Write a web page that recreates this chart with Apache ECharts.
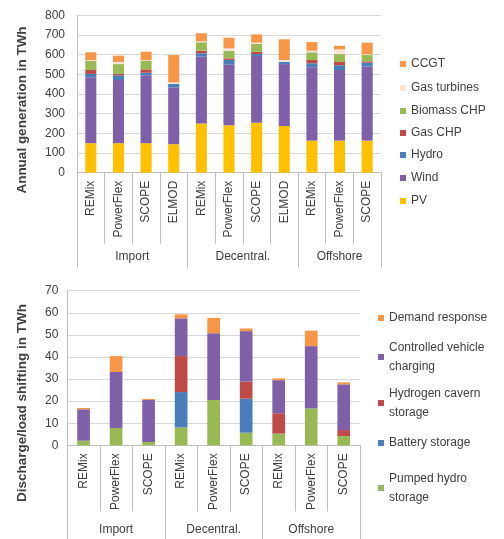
<!DOCTYPE html>
<html>
<head>
<meta charset="utf-8">
<script src="https://cdn.jsdelivr.net/npm/echarts@6/dist/echarts.min.js"></script>
<style>
  html, body { margin: 0; padding: 0; background: #ffffff; }
  #chart { width: 504px; height: 539px; }
</style>
</head>
<body>
<div id="chart"></div>
<script>
// ---- Annual generation (TWh) by scenario and model ----
const genModels = ['REMix', 'PowerFlex', 'SCOPE', 'ELMOD', 'REMix', 'PowerFlex', 'SCOPE', 'ELMOD', 'REMix', 'PowerFlex', 'SCOPE'];
const genGroups = ['Import', 'Decentral.', 'Offshore'];
const genGroupSizes = [4, 4, 3];
const genPV          = [150, 150, 150, 145, 250, 241, 254, 237, 163, 163, 163];
const genWind        = [335, 321, 345, 289, 340, 308, 339, 315, 373, 359, 376];
const genHydro       = [17, 24, 13, 17, 17, 24, 10, 12, 20, 24, 20];
const genGasCHP      = [20, 7, 17, 0, 13, 8, 12, 0, 17, 17, 7];
const genBiomassCHP  = [46, 50, 44, 0, 43, 38, 39, 0, 39, 40, 32];
const genGasTurbines = [4, 11, 3, 8, 5, 13, 7, 9, 8, 24, 4];
const genCCGT        = [40, 32, 43, 139, 41, 54, 42, 105, 44, 18, 59];
const genTicks = { min: 0, max: 800, interval: 100 };

// ---- Discharge / load shifting (TWh) ----
const flexModels = ['REMix', 'PowerFlex', 'SCOPE', 'REMix', 'PowerFlex', 'SCOPE', 'REMix', 'PowerFlex', 'SCOPE'];
const flexGroups = ['Import', 'Decentral.', 'Offshore'];
const flexGroupSizes = [3, 3, 3];
const flexPumpedHydro = [2.1, 7.8, 1.5, 8.1, 20.5, 5.7, 5.3, 16.7, 4.2];
const flexBattery     = [0, 0, 0, 16.0, 0, 15.4, 0, 0, 0];
const flexHydrogen    = [0, 0, 0, 16.3, 0, 7.7, 9.2, 0, 2.7];
const flexVehicles    = [14.2, 25.4, 19.0, 17.1, 30.2, 22.9, 15.0, 28.2, 20.7];
const flexDemandResp  = [0.6, 7.2, 0.5, 1.8, 7.0, 1.2, 0.8, 7.0, 0.9];
const flexTicks = { min: 0, max: 70, interval: 10 };

const FONT = 'Liberation Sans';
const TEXT = '#404040';
const LINE = '#bfbfbf';
const GRIDLINE = '#d9d9d9';

const C = {
  pv: '#FFC000', wind: '#7F60A8', hydro: '#4A7EBB', gasChp: '#BE4B48',
  biomass: '#98B954', gasTurb: '#FCE4D6', ccgt: '#F79646'
};

// group boundaries and centres in category-index units
function groupLayout(sizes) {
  const bounds = [0];
  const centres = [];
  sizes.forEach(s => {
    const start = bounds[bounds.length - 1];
    bounds.push(start + s);
    centres.push(start + s / 2);
  });
  return { bounds, centres };
}
const genLayout = groupLayout(genGroupSizes);
const flexLayout = groupLayout(flexGroupSizes);

const genSeries = [
  ['PV', genPV, C.pv], ['Wind', genWind, C.wind], ['Hydro', genHydro, C.hydro],
  ['Gas CHP', genGasCHP, C.gasChp], ['Biomass CHP', genBiomassCHP, C.biomass],
  ['Gas turbines', genGasTurbines, C.gasTurb], ['CCGT', genCCGT, C.ccgt]
];
const flexSeries = [
  ['Pumped hydro storage', flexPumpedHydro, C.biomass],
  ['Battery storage', flexBattery, C.hydro],
  ['Hydrogen cavern storage', flexHydrogen, C.gasChp],
  ['Controlled vehicle charging', flexVehicles, C.wind],
  ['Demand response', flexDemandResp, C.ccgt]
];

// legend labels that wrap onto a second line
const legendText = {
  'Controlled vehicle charging': 'Controlled vehicle\ncharging',
  'Hydrogen cavern storage': 'Hydrogen cavern\nstorage',
  'Pumped hydro storage': 'Pumped hydro\nstorage'
};

// legend entry positions (centre of first text line)
const genLegendRows = [
  ['CCGT', 64], ['Gas turbines', 88], ['Biomass CHP', 111], ['Gas CHP', 133],
  ['Hydro', 155], ['Wind', 178], ['PV', 201]
];
const flexLegendRows = [
  ['Demand response', 318], ['Controlled vehicle charging', 357],
  ['Hydrogen cavern storage', 403], ['Battery storage', 443], ['Pumped hydro storage', 488]
];

function legendEntry(name, y, left) {
  const multi = !!legendText[name];
  const L = 19;
  return {
    data: [name],
    orient: 'vertical',
    left: left,
    top: multi ? y - L * 1.5 : y - 7,
    padding: 0,
    icon: 'rect',
    itemWidth: 6,
    itemHeight: 6,
    selectedMode: false,
    formatter: n => legendText[n] || n,
    textStyle: multi
      ? { fontFamily: FONT, fontSize: 12, color: TEXT, lineHeight: L, padding: [L, 0, 0, 0] }
      : { fontFamily: FONT, fontSize: 12, color: TEXT, lineHeight: 14 }
  };
}

function modelAxis(gridIndex, models, tickLen) {
  return {
    type: 'category', gridIndex, data: models, position: 'bottom',
    axisLine: { lineStyle: { color: LINE } },
    axisTick: { show: true, interval: 0, length: tickLen, lineStyle: { color: LINE } },
    axisLabel: { interval: 0, rotate: 90, margin: 8, fontFamily: FONT, fontSize: 12, color: TEXT }
  };
}
function groupAxis(gridIndex, count, layout, groups, tickLen, labelMargin) {
  return {
    type: 'value', gridIndex, min: 0, max: count, position: 'bottom',
    axisLine: { show: false },
    splitLine: { show: false },
    axisTick: { show: true, customValues: layout.bounds, length: tickLen, lineStyle: { color: LINE } },
    axisLabel: {
      customValues: layout.centres, margin: labelMargin,
      fontFamily: FONT, fontSize: 12, color: TEXT,
      formatter: v => {
        const i = layout.centres.indexOf(v);
        return i >= 0 ? groups[i] : '';
      }
    }
  };
}
function valueAxis(gridIndex, ticks, margin) {
  return {
    type: 'value', gridIndex, min: ticks.min, max: ticks.max, interval: ticks.interval,
    axisLine: { show: true, lineStyle: { color: LINE } },
    axisTick: { show: false },
    splitLine: { lineStyle: { color: GRIDLINE } },
    axisLabel: { margin, fontFamily: FONT, fontSize: 12, color: TEXT }
  };
}

const series = [];
genSeries.forEach(([name, data, color]) => series.push({
  name, type: 'bar', stack: 'gen', xAxisIndex: 0, yAxisIndex: 0, data,
  barCategoryGap: '60%', itemStyle: { color }, emphasis: { disabled: true }
}));
flexSeries.forEach(([name, data, color]) => series.push({
  name, type: 'bar', stack: 'flex', xAxisIndex: 2, yAxisIndex: 1, data,
  barCategoryGap: '61%', itemStyle: { color }, emphasis: { disabled: true }
}));

const chart = echarts.init(document.getElementById('chart'), null, { renderer: 'canvas' });
chart.setOption({
  animation: false,
  backgroundColor: '#ffffff',
  textStyle: { fontFamily: FONT },
  grid: [
    { left: 77, top: 15.3, width: 304, height: 157.4 },
    { left: 67.3, top: 290.7, width: 292.7, height: 154.6 }
  ],
  xAxis: [
    modelAxis(0, genModels, 71),
    groupAxis(0, genModels.length, genLayout, genGroups, 95, 78),
    modelAxis(1, flexModels, 66),
    groupAxis(1, flexModels.length, flexLayout, flexGroups, 94, 78)
  ],
  yAxis: [
    valueAxis(0, genTicks, 12),
    valueAxis(1, flexTicks, 9)
  ],
  legend: [
    ...genLegendRows.map(([n, y]) => legendEntry(n, y, 400)),
    ...flexLegendRows.map(([n, y]) => legendEntry(n, y, 378))
  ],
  graphic: [
    {
      type: 'text', x: 22, y: 110, rotation: Math.PI / 2,
      style: { text: 'Annual generation in TWh', font: 'bold 13.5px "Liberation Sans"', fill: TEXT, align: 'center', verticalAlign: 'middle' }
    },
    {
      type: 'text', x: 22, y: 403, rotation: Math.PI / 2,
      style: { text: 'Discharge/load shifting in TWh', font: 'bold 13.5px "Liberation Sans"', fill: TEXT, align: 'center', verticalAlign: 'middle' }
    }
  ],
  series
});
</script>
</body>
</html>
